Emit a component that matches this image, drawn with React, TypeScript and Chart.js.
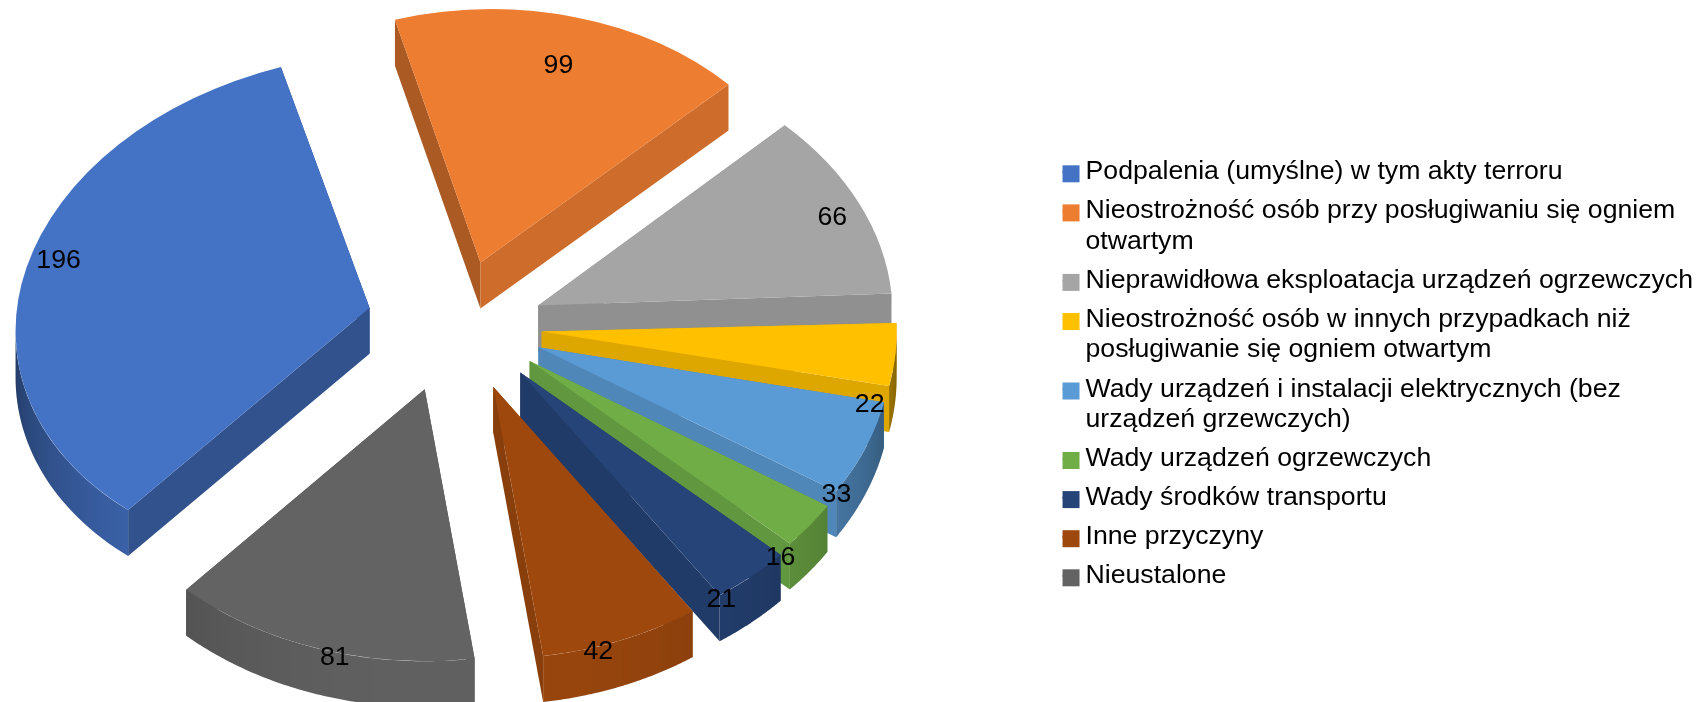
import React, { useEffect, useRef } from "react";
import { Chart, registerables, ArcElement } from "chart.js";

Chart.register(...registerables);

const categories: (string | string[])[] = [
  ["Podpalenia (umyślne) w tym akty terroru"],
  ["Nieostrożność osób przy posługiwaniu się ogniem", "otwartym"],
  ["Nieprawidłowa eksploatacja urządzeń ogrzewczych"],
  ["Nieostrożność osób w innych przypadkach niż", "posługiwanie się ogniem otwartym"],
  ["Wady urządzeń i instalacji elektrycznych (bez", "urządzeń grzewczych)"],
  ["Wady urządzeń ogrzewczych"],
  ["Wady środków transportu"],
  ["Inne przyczyny"],
  ["Nieustalone"],
];
const values = [196, 99, 66, 22, 33, 16, 21, 42, 81];
const colors = ["#4472C4", "#ED7D31", "#A5A5A5", "#FFC000", "#5B9BD5", "#70AD47", "#264478", "#9E480E", "#636363"];

// Projection of the tilted pie
const ROTATION = -137.5;
const BASE_R = 353;
const CENTER_X = 456;
const CENTER_Y = 323;
const EXPLODE = 89;
const TILT = 0.72;
const DEPTH = 46;
const SWATCH = 17;
// perspective correction per slice
const radiusX = [354, 338, 354, 355, 353, 353, 353, 353, 353];
const radiusY = [255, 253, 260, 265, 268, 270, 270, 272, 272];
const shearY = [-0.06, -0.02, -0.01, 0, 0, 0, 0, 0, 0];
const shearX = [-0.012, -0.008, 0.066, 0, 0, 0, 0, 0, 0];
const apexShift = [[0, 0], [0, 1], [0, 7], [-3, 3], [0, 0], [3, -1], [6, 1], [5, 4], [-5, 5]];
const labelOffset = [[-311, -47], [78, -197], [294, -88], [328, 73], [298, 147], [251, 197], [201, 227], [105, 265], [-90, 268]];

function shade(hex: string, f: number) {
  const n = parseInt(hex.slice(1), 16);
  const c = [(n >> 16) & 255, (n >> 8) & 255, n & 255].map((v) => Math.round(v * f));
  return `rgb(${c[0]},${c[1]},${c[2]})`;
}

function apex(arc: any, i: number) {
  const mid = (arc.startAngle + arc.endAngle) / 2;
  return {
    x: CENTER_X + EXPLODE * Math.cos(mid) + apexShift[i][0],
    y: CENTER_Y + EXPLODE * TILT * Math.sin(mid) + apexShift[i][1],
  };
}
function project(arc: any, i: number, a: number) {
  const o = apex(arc, i);
  const u = radiusX[i] * Math.cos(a);
  const v = radiusY[i] * Math.sin(a);
  return { x: o.x + u + shearX[i] * v, y: o.y + v + shearY[i] * u };
}

const tiltPlugin = {
  id: "tilt",
  afterLayout(chart: any) {
    chart.legend.left += 3;
    chart.legend.right += 3;
  },
  afterDatasetsUpdate(chart: any) {
    chart.getDatasetMeta(0).data.forEach((arc: any, i: number) => {
      arc.draw = (ctx: CanvasRenderingContext2D) => {
        const o = apex(arc, i);
        const sx = radiusX[i] / BASE_R;
        const sy = radiusY[i] / BASE_R;
        ctx.save();
        ctx.translate(o.x, o.y);
        ctx.transform(sx, shearY[i] * sx, shearX[i] * sy, sy, 0, 0);
        ctx.translate(-arc.x, -arc.y);
        ArcElement.prototype.draw.call(arc, ctx);
        ctx.restore();
      };
    });
  },
  beforeDatasetsDraw(chart: any) {
    const ctx: CanvasRenderingContext2D = chart.ctx;
    chart.getDatasetMeta(0).data.forEach((arc: any, i: number) => {
      const o = apex(arc, i);
      const base = colors[i];
      // radial faces
      [arc.startAngle, arc.endAngle].forEach((a: number) => {
        const p = project(arc, i, a);
        ctx.beginPath();
        ctx.moveTo(o.x, o.y);
        ctx.lineTo(p.x, p.y);
        ctx.lineTo(p.x, p.y + DEPTH);
        ctx.lineTo(o.x, o.y + DEPTH);
        ctx.closePath();
        ctx.fillStyle = shade(base, Math.cos(a) < 0 ? 0.72 : 0.87);
        ctx.fill();
      });
      // rim
      const pts: { a: number; x: number; y: number }[] = [];
      const N = 80;
      for (let k = 0; k <= N; k++) {
        const a = arc.startAngle + ((arc.endAngle - arc.startAngle) * k) / N;
        if (Math.sin(a) >= -0.001) pts.push({ a, ...project(arc, i, a) });
      }
      if (pts.length > 1) {
        const x0 = pts[0].x;
        const x1 = pts[pts.length - 1].x;
        const g = ctx.createLinearGradient(x0, 0, x1, 0);
        pts.forEach((p) => {
          const t = Math.abs(x1 - x0) < 1e-6 ? 0 : (p.x - x0) / (x1 - x0);
          g.addColorStop(Math.min(1, Math.max(0, t)), shade(base, 0.5 + 0.47 * Math.max(0, Math.sin(p.a))));
        });
        ctx.beginPath();
        pts.forEach((p, k) => (k ? ctx.lineTo(p.x, p.y) : ctx.moveTo(p.x, p.y)));
        for (let k = pts.length - 1; k >= 0; k--) ctx.lineTo(pts[k].x, pts[k].y + DEPTH);
        ctx.closePath();
        ctx.fillStyle = g;
        ctx.fill();
      }
    });
  },
  afterDatasetsDraw(chart: any) {
    const ctx: CanvasRenderingContext2D = chart.ctx;
    ctx.save();
    ctx.font = '26.67px "Liberation Sans"';
    ctx.fillStyle = "#000";
    ctx.textAlign = "center";
    ctx.textBaseline = "middle";
    chart.getDatasetMeta(0).data.forEach((arc: any, i: number) => {
      const o = apex(arc, i);
      ctx.fillText(String(chart.data.datasets[0].data[i]), o.x + labelOffset[i][0], o.y + labelOffset[i][1]);
    });
    ctx.restore();
  },
  afterDraw(chart: any) {
    // legend swatches sit a little below the first text line
    const ctx: CanvasRenderingContext2D = chart.ctx;
    chart.legend.legendHitBoxes.forEach((hb: any, i: number) => {
      ctx.fillStyle = colors[i];
      ctx.fillRect(hb.left, hb.top + 6.6, SWATCH, SWATCH);
    });
  },
};

export default function App() {
  const ref = useRef<HTMLCanvasElement>(null);
  useEffect(() => {
    const chart = new Chart(ref.current!, {
      type: "pie",
      data: {
        labels: categories as any,
        datasets: [{ data: values, backgroundColor: colors, borderWidth: 0, clip: false as any }],
      },
      options: {
        responsive: false,
        animation: false,
        rotation: ROTATION,
        radius: BASE_R,
        layout: { padding: { top: 150, right: 0 } },
        plugins: {
          tooltip: { enabled: false },
          legend: {
            position: "right",
            align: "start",
            labels: {
              font: { family: '"Liberation Sans"', size: 26.67, lineHeight: "30.4px" as any },
              color: "#000",
              boxWidth: 9.67,
              boxHeight: 2,
              padding: 8.7,
              generateLabels: (c: any) =>
                c.data.labels.map((t: any, i: number) => ({
                  text: t,
                  fillStyle: colors[i],
                  strokeStyle: colors[i],
                  lineWidth: 0,
                  index: i,
                })),
            },
          },
        },
      } as any,
      plugins: [tiltPlugin],
    });
    return () => chart.destroy();
  }, []);
  return <canvas ref={ref} width={1700} height={702} style={{ position: "fixed", left: 0, top: 0, display: "block" }} />;
}
